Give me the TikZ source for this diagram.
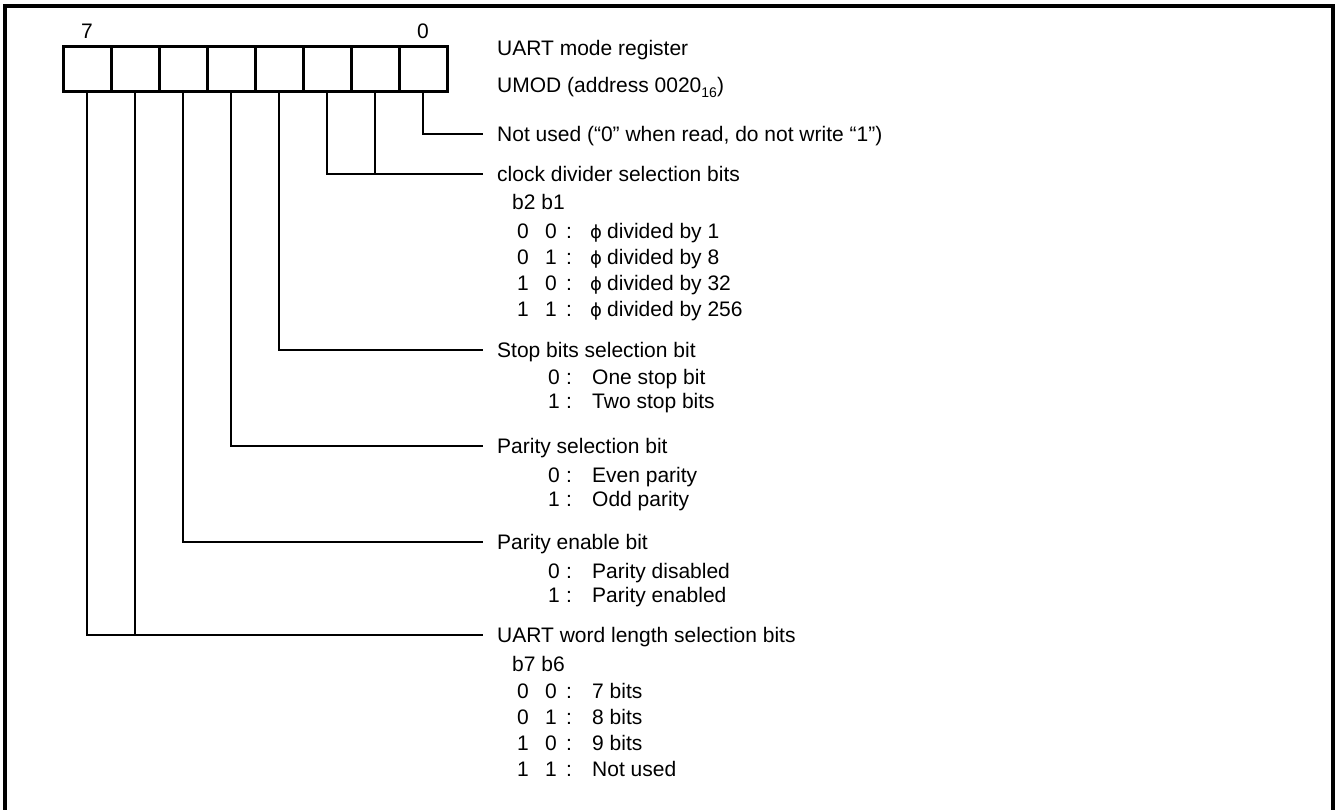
\documentclass[tikz,border=0pt]{standalone}
\usepackage{fontspec}
\setmainfont{Liberation Sans}
\newfontfamily\djv{DejaVu Sans}
\newcommand{\phichar}{{\djv\fontsize{18}{20}\selectfont ϕ}}
\begin{document}
\begin{tikzpicture}[x=1pt,y=-1pt,
  txt/.style={anchor=west, inner sep=0pt, text height=15pt, text depth=0pt, font=\fontsize{21}{25}\selectfont},
  hdr/.style={txt, inner xsep=14pt, inner ysep=0pt},
  cell/.style={draw, line width=3pt, minimum width=48pt, minimum height=45pt, inner sep=0pt},
  conn/.style={line width=2pt}]
\useasboundingbox (0,0) rectangle (1335,810);
% frame
\draw[line width=4pt] (5,815) -- (5,6) -- (1333,6) -- (1333,815);
% register cells
\foreach \i/\x in {7/87,6/135,5/183,4/231,3/279,2/327,1/375,0/423}
  \node[cell] (c\i) at (\x,69.5) {};
\node[txt, anchor=center] (n7) at (87,31) {7};
\node[txt, anchor=center] (n0) at (423,31) {0};
% headers
\node[hdr] (reg) at (483,48) {UART mode register};
\node[hdr] (umod) at (483,85) {UMOD (address 0020\raisebox{-5pt}{\fontsize{14}{14}\selectfont 16})};
\node[hdr] (nu) at (483,134) {Not used (“0” when read, do not write “1”)};
\node[hdr] (cd) at (483,174) {clock divider selection bits};
\node[hdr] (sb) at (483,350) {Stop bits selection bit};
\node[hdr] (ps) at (483,446) {Parity selection bit};
\node[hdr] (pe) at (483,542) {Parity enable bit};
\node[hdr] (wl) at (483,635) {UART word length selection bits};
% connectors
\draw[conn] (c0.south) |- (nu.west);
\draw[conn] (c2.south) |- (cd.west);
\draw[conn] (c1.south) -- (c1.south |- cd.west);
\draw[conn] (c3.south) |- (sb.west);
\draw[conn] (c4.south) |- (ps.west);
\draw[conn] (c5.south) |- (pe.west);
\draw[conn] (c7.south) |- (wl.west);
\draw[conn] (c6.south) -- (c6.south |- wl.west);
% clock divider rows
\node[txt] (cdh) at (512,202) {b2 b1};
\foreach \y/\a/\b/\t [count=\k] in {231/0/0/1,257/0/1/8,283/1/0/32,309/1/1/256}{
  \node[txt] (cda\k) at (517,\y) {\a};
  \node[txt] (cdb\k) at (545,\y) {\b};
  \node[txt] (cdc\k) at (566,\y) {:};
  \node[txt] (cdp\k) at (590,\y) {\phichar};
  \node[txt] (cdt\k) at (607,\y) {divided by \t};
}
% stop bits rows
\foreach \y/\a/\t [count=\k] in {377/0/One stop bit,401/1/Two stop bits}{
  \node[txt] (sba\k) at (548,\y) {\a};
  \node[txt] (sbc\k) at (566,\y) {:};
  \node[txt] (sbt\k) at (592,\y) {\t};
}
% parity selection rows
\foreach \y/\a/\t [count=\k] in {475/0/Even parity,499/1/Odd parity}{
  \node[txt] (psa\k) at (548,\y) {\a};
  \node[txt] (psc\k) at (566,\y) {:};
  \node[txt] (pst\k) at (592,\y) {\t};
}
% parity enable rows
\foreach \y/\a/\t [count=\k] in {571/0/Parity disabled,595/1/Parity enabled}{
  \node[txt] (pea\k) at (548,\y) {\a};
  \node[txt] (pec\k) at (566,\y) {:};
  \node[txt] (pet\k) at (592,\y) {\t};
}
% word length rows
\node[txt] (wlh) at (512,664) {b7 b6};
\foreach \y/\a/\b/\t [count=\k] in {691/0/0/7 bits,717/0/1/8 bits,743/1/0/9 bits,769/1/1/Not used}{
  \node[txt] (wla\k) at (517,\y) {\a};
  \node[txt] (wlb\k) at (545,\y) {\b};
  \node[txt] (wlc\k) at (566,\y) {:};
  \node[txt] (wlt\k) at (592,\y) {\t};
}
\end{tikzpicture}
\end{document}
